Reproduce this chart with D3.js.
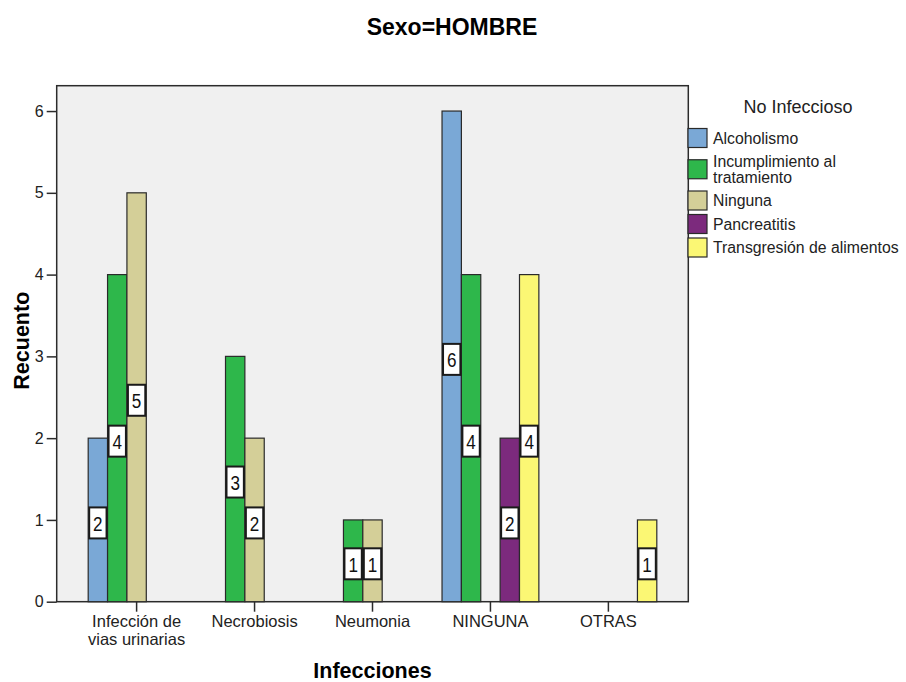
<!DOCTYPE html>
<html>
<head>
<meta charset="utf-8">
<script src="https://cdn.jsdelivr.net/npm/d3@7"></script>
<style>
  html, body { margin: 0; padding: 0; background: #ffffff; }
  svg { display: block; font-family: "Liberation Sans", Arial, sans-serif; }
</style>
</head>
<body>
<svg id="chart" width="906" height="682"></svg>
<script>
// Infecciones x No Infeccioso counts, Sexo = HOMBRE
const categories = ["Infección de vias urinarias", "Necrobiosis", "Neumonia", "NINGUNA", "OTRAS"];
const seriesNames = ["Alcoholismo", "Incumplimiento al tratamiento", "Ninguna", "Pancreatitis", "Transgresión de alimentos"];
const alcoholismo    = [2, 0, 0, 6, 0];
const incumplimiento = [4, 3, 1, 4, 0];
const ninguna        = [5, 2, 1, 0, 0];
const pancreatitis   = [0, 0, 0, 2, 0];
const transgresion   = [0, 0, 0, 4, 1];
const yTicks = [0, 1, 2, 3, 4, 5, 6];
const seriesColors = ["#7aa8d6", "#2eb74b", "#d4cf98", "#7c2a7d", "#fbf774"];

const seriesValues = [alcoholismo, incumplimiento, ninguna, pancreatitis, transgresion];

const svg = d3.select("#chart");
const FONT = "\"Liberation Sans\", Arial, sans-serif";

const plot = { left: 56.7, top: 85.7, right: 688.3, bottom: 601.7 };

const x0 = d3.scaleBand()
  .domain(categories)
  .range([plot.left, plot.right])
  .paddingInner(0.179)
  .paddingOuter(0.267);

const x1 = d3.scaleBand()
  .domain(seriesNames)
  .range([0, x0.bandwidth()])
  .padding(0);

const y = d3.scaleLinear()
  .domain([0, 6.31])
  .range([plot.bottom, plot.top]);

const color = d3.scaleOrdinal().domain(seriesNames).range(seriesColors);

// word wrap helper for tspans
function wrap(textSel, width, lineHeight) {
  textSel.each(function () {
    const text = d3.select(this);
    const words = text.text().split(/\s+/);
    const xPos = text.attr("x") || 0;
    text.text(null);
    let line = [];
    let tspan = text.append("tspan").attr("x", xPos).attr("dy", 0);
    let lineNo = 0;
    words.forEach(w => {
      line.push(w);
      tspan.text(line.join(" "));
      if (tspan.node().getComputedTextLength() > width && line.length > 1) {
        line.pop();
        tspan.text(line.join(" "));
        line = [w];
        lineNo++;
        tspan = text.append("tspan").attr("x", xPos).attr("dy", lineHeight).text(w);
      }
    });
    text.attr("data-lines", lineNo + 1);
  });
}

// Title
svg.append("text")
  .attr("x", 452).attr("y", 35)
  .attr("text-anchor", "middle")
  .style("font-family", FONT)
  .style("font-weight", "bold")
  .style("font-size", "23px")
  .attr("fill", "#000")
  .text("Sexo=HOMBRE");

// Plot background frame
svg.append("rect")
  .attr("x", plot.left).attr("y", plot.top)
  .attr("width", plot.right - plot.left)
  .attr("height", plot.bottom - plot.top)
  .attr("fill", "#f0f0f0")
  .attr("stroke", "#2b2b2b")
  .attr("stroke-width", 1.5);

// Y axis
const yAxis = svg.append("g")
  .attr("transform", `translate(${plot.left},0)`)
  .call(d3.axisLeft(y).tickValues(yTicks).tickFormat(d3.format("d")).tickSize(10).tickPadding(3));
yAxis.select(".domain").remove();
yAxis.selectAll(".tick line").attr("stroke", "#2b2b2b").attr("stroke-width", 1.5);
yAxis.selectAll(".tick text")
  .style("font-family", FONT).style("font-size", "16px").attr("fill", "#222");

// X axis
const xAxis = svg.append("g")
  .attr("transform", `translate(0,${plot.bottom})`)
  .call(d3.axisBottom(x0).tickSize(10).tickPadding(15));
xAxis.select(".domain").remove();
xAxis.selectAll(".tick line").attr("stroke", "#2b2b2b").attr("stroke-width", 1.5);
xAxis.selectAll(".tick text")
  .style("font-family", FONT).style("font-size", "16.5px").attr("fill", "#222")
  .attr("dy", "0.71em")
  .call(wrap, x0.step() - 10, 18);

// Bars
const groups = svg.append("g").selectAll("g")
  .data(categories)
  .join("g")
  .attr("transform", d => `translate(${x0(d)},0)`);

const barData = (cat, ci) => seriesNames
  .map((s, si) => ({ cat, series: s, value: seriesValues[si][ci] }))
  .filter(d => d.value > 0);

groups.each(function (cat, ci) {
  const g = d3.select(this);
  const data = barData(cat, ci);
  g.selectAll("rect.bar")
    .data(data)
    .join("rect")
    .attr("class", "bar")
    .attr("x", d => x1(d.series))
    .attr("y", d => y(d.value))
    .attr("width", x1.bandwidth())
    .attr("height", d => y(0) - y(d.value))
    .attr("fill", d => color(d.series))
    .attr("stroke", "#2a2a2a")
    .attr("stroke-width", 1.2);

  // value boxes at mid-height
  const lbl = g.selectAll("g.lbl")
    .data(data)
    .join("g")
    .attr("class", "lbl")
    .attr("transform", d => `translate(${x1(d.series) + x1.bandwidth() / 2},${(y(d.value) + y(0)) / 2 + 3})`);
  lbl.append("rect")
    .attr("x", -x1.bandwidth() / 2 + 1)
    .attr("y", -15.5)
    .attr("width", x1.bandwidth() - 2)
    .attr("height", 31)
    .attr("fill", "#ffffff")
    .attr("stroke", "#1a1a1a")
    .attr("stroke-width", 2);
  lbl.append("text")
    .attr("text-anchor", "middle")
    .attr("y", 7.5)
    .attr("transform", "scale(0.9,1.08)")
    .style("font-family", FONT)
    .style("font-size", "19px")
    .attr("fill", "#111")
    .text(d => d.value);
});

// Axis titles
svg.append("text")
  .attr("x", (plot.left + plot.right) / 2).attr("y", 678)
  .attr("text-anchor", "middle")
  .style("font-family", FONT).style("font-weight", "bold").style("font-size", "21.5px")
  .attr("fill", "#000")
  .text("Infecciones");

svg.append("text")
  .attr("transform", `translate(29,${(plot.top + plot.bottom) / 2 - 3}) rotate(-90)`)
  .attr("text-anchor", "middle")
  .style("font-family", FONT).style("font-weight", "bold").style("font-size", "21.5px")
  .attr("fill", "#000")
  .text("Recuento");

// Legend
const legend = svg.append("g");
legend.append("text")
  .attr("x", 798).attr("y", 113)
  .attr("text-anchor", "middle")
  .style("font-family", FONT).style("font-size", "18px")
  .attr("fill", "#222")
  .text("No Infeccioso");

const legX = 688, sw = 19, lineH = 15.5, rowH = 23.5;
let cursor = 126.25;
seriesNames.forEach((name, i) => {
  const t = legend.append("text")
    .attr("x", legX + sw + 6)
    .style("font-family", FONT).style("font-size", "15.8px")
    .attr("fill", "#222")
    .text(name);
  wrap(t, 198, lineH);
  const nLines = +t.attr("data-lines");
  const h = rowH + (nLines - 1) * lineH;
  const cy = cursor + h / 2;
  t.attr("y", cy - (nLines - 1) * lineH / 2 + 5.5);
  legend.append("rect")
    .attr("x", legX).attr("y", cy - sw / 2)
    .attr("width", sw).attr("height", sw)
    .attr("fill", color(name))
    .attr("stroke", "#2a2a2a")
    .attr("stroke-width", 1.2);
  cursor += h;
});
</script>
</body>
</html>
